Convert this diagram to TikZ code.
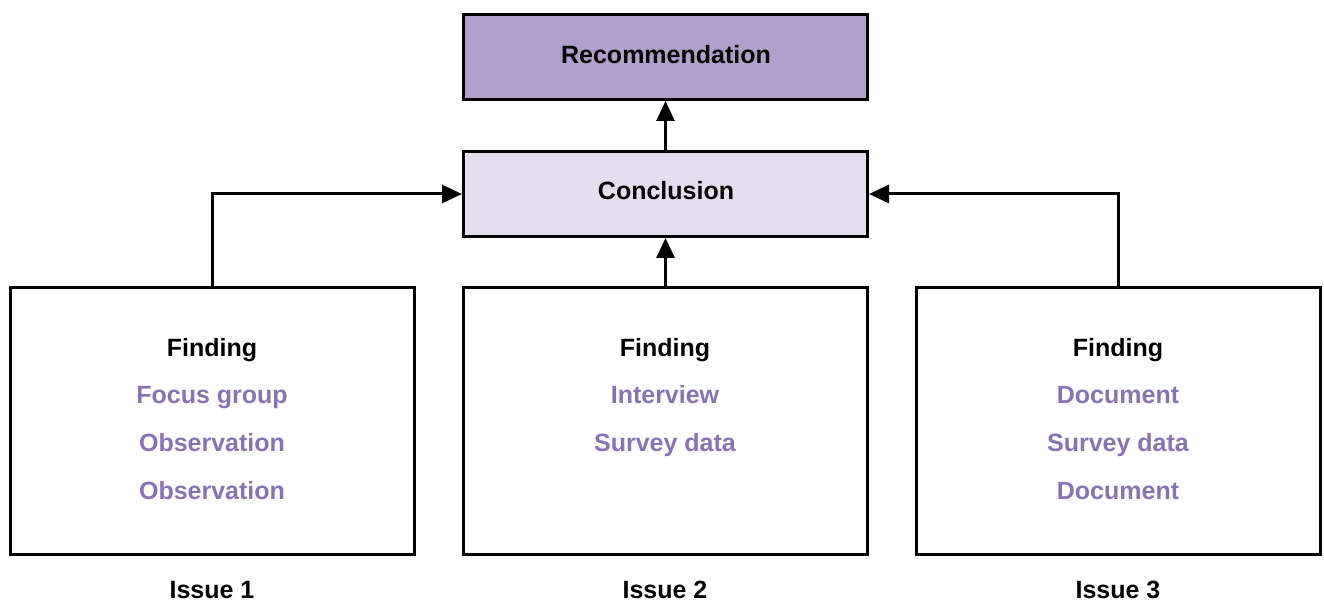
\documentclass[tikz,border=0pt]{standalone}
\usepackage{fontspec}
\setmainfont{Liberation Sans}
\usetikzlibrary{arrows.meta}
\definecolor{recfill}{HTML}{B0A1CC}
\definecolor{confill}{HTML}{E3DDEE}
\definecolor{srcpurple}{HTML}{8673B5}
\begin{document}
\begin{tikzpicture}[x=1pt,y=-1pt,
  box/.style={draw=black,line width=3pt,minimum width=404pt,minimum height=85pt,inner sep=0pt},
  bigbox/.style={box,minimum height=267pt},
  lbl/.style={font=\fontsize{25}{28}\selectfont\bfseries,inner sep=0pt,anchor=base},
  src/.style={lbl,text=srcpurple},
  conn/.style={line width=3pt,-{Triangle[length=20pt,width=18pt]}}]
\useasboundingbox (0,0) rectangle (1324,601);
\node[box,fill=recfill] (rec) at (665.5,57) {};
\node[lbl] (rect) at (666,64) {Recommendation};
\node[box,fill=confill] (con) at (665.5,194) {};
\node[lbl] (cont) at (666,200) {Conclusion};
\node[bigbox] (f1) at (212.5,421) {};
\node[bigbox] (f2) at (665.5,421) {};
\node[bigbox] (f3) at (1118.5,421) {};
\node[lbl] (f1h) at (212,356) {Finding};
\node[src] (f1a) at (212,403) {Focus group};
\node[src] (f1b) at (212,451) {Observation};
\node[src] (f1c) at (212,499) {Observation};
\node[lbl] (f2h) at (665,356) {Finding};
\node[src] (f2a) at (665,403) {Interview};
\node[src] (f2b) at (665,451) {Survey data};
\node[lbl] (f3h) at (1118,356) {Finding};
\node[src] (f3a) at (1118,403) {Document};
\node[src] (f3b) at (1118,451) {Survey data};
\node[src] (f3c) at (1118,499) {Document};
\node[lbl] (i1) at (212,598) {Issue 1};
\node[lbl] (i2) at (665,598) {Issue 2};
\node[lbl] (i3) at (1118,598) {Issue 3};
\draw[conn] (con.north) -- (rec.south);
\draw[conn] (f2.north) -- (con.south);
\draw[conn] (f1.north) |- (con.west);
\draw[conn] (f3.north) |- (con.east);
\end{tikzpicture}
\end{document}
